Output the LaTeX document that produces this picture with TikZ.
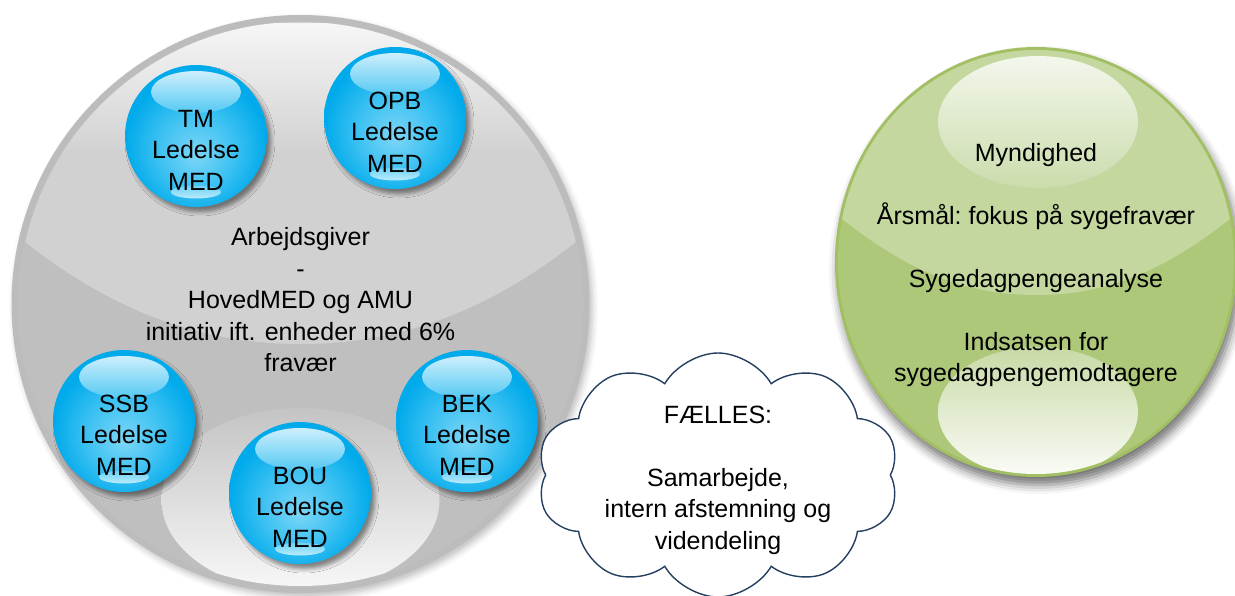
\documentclass[tikz,border=0pt]{standalone}
\usepackage{fontspec}
\setmainfont{Liberation Sans}
\usetikzlibrary{shapes.geometric,shapes.symbols,shadows.blur}

\definecolor{grayRim}{HTML}{BCBCBC}
\definecolor{grayBase}{HTML}{BFBFBF}
\definecolor{grayTopA}{HTML}{F6F6F6}
\definecolor{grayTopB}{HTML}{D1D1D1}
\definecolor{grayBotA}{HTML}{C4C4C4}
\definecolor{grayBotB}{HTML}{F8F8F8}
\definecolor{bubIn}{HTML}{7DD6F7}
\definecolor{bubMid}{HTML}{3EC2F2}
\definecolor{bubOut}{HTML}{00AAEB}
\definecolor{bubHiA}{HTML}{CDEFFC}
\definecolor{bubHiB}{HTML}{55C9F3}
\definecolor{bubLoA}{HTML}{6AD0F5}
\definecolor{bubLoB}{HTML}{BDECFB}
\definecolor{grnRim}{HTML}{A2C063}
\definecolor{grnBase}{HTML}{AEC879}
\definecolor{grnTop}{HTML}{C4D79F}
\definecolor{grnHiA}{HTML}{F3F7EC}
\definecolor{grnHiB}{HTML}{CBDCAC}
\definecolor{grnLoA}{HTML}{C8DAA6}
\definecolor{grnLoB}{HTML}{FBFCF8}
\definecolor{cloudLine}{HTML}{243F60}

\pgfdeclareradialshading{bubShade}{\pgfpoint{0bp}{-7bp}}{color(0bp)=(bubIn); color(13bp)=(bubMid); color(25bp)=(bubOut); color(50bp)=(bubOut)}

\tikzset{
  txt/.style={font=\fontsize{25}{31.5}\selectfont, align=center, inner sep=0pt, text=black},
  bubble/.style={circle, minimum size=142pt, inner sep=0pt, shade, shading=bubShade,
    blur shadow={shadow xshift=4pt, shadow yshift=-5pt, shadow blur radius=4pt, shadow opacity=45},
    path picture={\begin{scope}[shift={(path picture bounding box.center)}]
      \shade[top color=bubHiA, bottom color=bubHiB] (0,-44) ellipse [x radius=45pt, y radius=21pt];
      \shade[top color=bubLoA, bottom color=bubLoB] (0,56) ellipse [x radius=25pt, y radius=6.5pt];
    \end{scope}}},
  bigdisc/.style={circle, minimum size=578pt, inner sep=0pt, fill=grayRim,
    blur shadow={shadow xshift=3pt, shadow yshift=-4pt, shadow blur radius=6pt, shadow opacity=25}},
  greendisc/.style={ellipse, minimum width=402pt, minimum height=430pt, inner sep=0pt, fill=grnRim,
    blur shadow={shadow xshift=3pt, shadow yshift=-8pt, shadow blur radius=9pt, shadow opacity=55},
    path picture={\begin{scope}[shift={(path picture bounding box.center)}]
      \fill[grnBase] (0,0) ellipse [x radius=198pt, y radius=212pt];
      \begin{scope}
        \clip (0,0) ellipse [x radius=198pt, y radius=212pt];
        \fill[grnTop] (-205,-52) .. controls (-130,10) and (-70,33) .. (0,33)
          .. controls (70,33) and (130,10) .. (205,-52) -- (205,-220) -- (-205,-220) -- cycle;
        \shade[top color=grnHiA, bottom color=grnHiB] (2,-140) ellipse [x radius=100pt, y radius=66pt];
        \shade[top color=grnLoA, bottom color=grnLoB] (2,150) ellipse [x radius=100pt, y radius=65pt];
      \end{scope}
    \end{scope}}},
  thought/.style={cloud, cloud puffs=10, cloud puff arc=120, draw=cloudLine, line width=1.4pt,
    fill=white, minimum width=362pt, minimum height=244pt, inner sep=0pt}
}

\begin{document}
\begin{tikzpicture}[x=1pt,y=-1pt]
\useasboundingbox (0,0) rectangle (1235,596);

% employer disc
\node[bigdisc] (emp) at (300.5,304) {};
\begin{scope}[shift={(emp.center)}]
  \fill[grayBase] (0,0) circle [radius=283pt];
  \begin{scope}
    \clip (0,0) circle [radius=282pt];
    \begin{scope}
      \clip (-290,-74) .. controls (-190,10) and (-95,40) .. (0,40)
        .. controls (95,40) and (190,10) .. (290,-74) -- (290,-290) -- (-290,-290) -- cycle;
      \fill[grayTopB] (-290,-290) rectangle (290,50);
      \shade[top color=grayTopA, bottom color=grayTopB] (-290,-280) rectangle (290,-150);
    \end{scope}
    \shade[top color=grayBotA, bottom color=grayBotB] (0,196) ellipse [x radius=139pt, y radius=92pt];
  \end{scope}
\end{scope}
\node[txt] (empt) at (300.5,300) {Arbejdsgiver\\-\\HovedMED og AMU\\initiativ ift. enheder med 6\%\\fravær};

% unit bubbles
\node[bubble] (tm)  at (196,136) {};
\node[bubble] (opb) at (395,118) {};
\node[bubble] (ssb) at (124,421) {};
\node[bubble] (bou) at (300,493) {};
\node[bubble] (bek) at (467,421) {};
\node[txt] (tmt)  at ([yshift=-14pt]tm.center)  {TM\\Ledelse\\MED};
\node[txt] (opbt) at ([yshift=-14pt]opb.center) {OPB\\Ledelse\\MED};
\node[txt] (ssbt) at ([yshift=-14pt]ssb.center) {SSB\\Ledelse\\MED};
\node[txt] (bout) at ([yshift=-14pt]bou.center) {BOU\\Ledelse\\MED};
\node[txt] (bekt) at ([yshift=-14pt]bek.center) {BEK\\Ledelse\\MED};

% authority disc
\node[greendisc] (auth) at (1036,262) {};
\node[txt] (autht) at (1036,265) {Myndighed\\[31.5pt]Årsmål:\ fokus på sygefravær\\[31.5pt]Sygedagpengeanalyse\\[31.5pt]Indsatsen for\\sygedagpengemodtagere};

% shared cloud
\node[thought] (common) at (718,475) {};
\node[txt] (commont) at (718,480) {FÆLLES:\\[31.5pt]Samarbejde,\\intern afstemning og\\videndeling};
\end{tikzpicture}
\end{document}
